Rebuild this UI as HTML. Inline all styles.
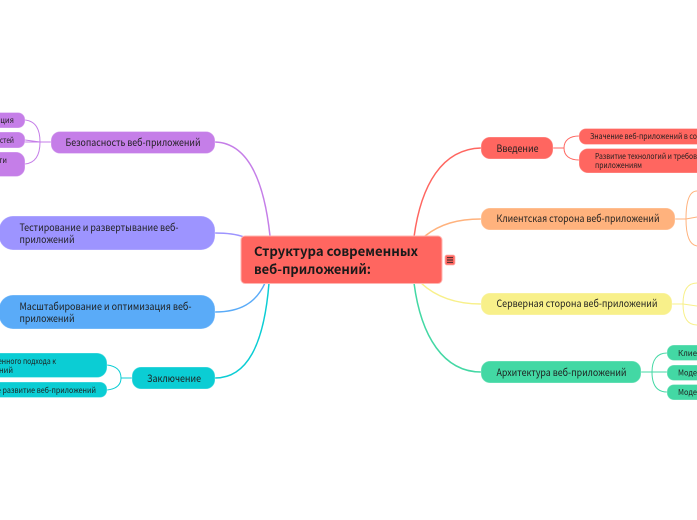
<!DOCTYPE html>
<html>
<head>
<meta charset="utf-8">
<style>
html,body{margin:0;padding:0;background:#fff;width:697px;height:520px;overflow:hidden}
svg{display:block}
text{font-family:"Noto Sans CJK SC","Liberation Sans",sans-serif;fill:#1e1e1e}
.m{font-size:10.200px}
.s{font-size:7.800px}
.r{font-size:13px;font-weight:700;fill:#1a1a1a}
.l{fill:none;stroke-width:1.5;stroke-linecap:round}
.t{fill:none;stroke-width:1}
.n{stroke:#fff;stroke-opacity:.3;stroke-width:1}
</style>
</head>
<body>
<svg width="697" height="520" viewBox="0 0 697 520" xmlns="http://www.w3.org/2000/svg">
<!-- main connectors -->
<path class="l" stroke="#ff6660" d="M414 237C421 185 442 149 481 148"/>
<path class="l" stroke="#ffb27d" d="M425 236C440 224 458 219 481 219"/>
<path class="l" stroke="#f8f08a" d="M421 283C436 297 456 304 481 304"/>
<path class="l" stroke="#43d8a4" d="M414 283C421 337 444 372 481 372"/>
<path class="l" stroke="#c57ee8" d="M270 236C264 180 248 143 215 142"/>
<path class="l" stroke="#9d94ff" d="M244 237C236 234 226 233 215 233"/>
<path class="l" stroke="#5aabf8" d="M265 283C256 303 240 312 215 312"/>
<path class="l" stroke="#0bcdd4" d="M269 283C264 345 247 378 215 378"/>
<!-- sub connectors -->
<path class="t" stroke="#ff6660" d="M553 148H564M579 136C570 136 564 140 564 148C564 156 570 160 579 160"/>
<path class="t" stroke="#ffb27d" d="M675 219H686M697 191C690 191 686 200 686 219C686 237 690 245 697 246M686 219L697 217"/>
<path class="t" stroke="#f8f08a" d="M672 304H683M697 283C688 283 683 290 683 304C683 318 688 325 697 325M683 304L697 306"/>
<path class="t" stroke="#43d8a4" d="M641 372H667M667 353C657 353 652 360 652 372C652 385 657 392 667 392"/>
<path class="t" stroke="#c57ee8" d="M51 142H25M25 120C35 121 40 128 40 142C40 156 35 163 25 164M25 140L40 142"/>
<path class="t" stroke="#0bcdd4" d="M132 378H121M107 365C116 366 121 370 121 378C121 385 116 389 107 390"/>
<!-- root -->
<rect x="241" y="236" width="201" height="47.500" rx="4" fill="#ff6660" stroke="#ffb5b1" stroke-width="1"/>
<text class="r" x="254" y="256" textLength="164" lengthAdjust="spacingAndGlyphs">Структура современных</text>
<text class="r" x="254" y="274" textLength="117" lengthAdjust="spacingAndGlyphs">веб-приложений:</text>
<rect x="445" y="255" width="10" height="10" rx="2" fill="#ff6660" stroke="#ffb5b1" stroke-width="0.8"/>
<path d="M447 257.700H453M447 260H453M447 262.300H453" stroke="#222" stroke-width="0.9"/>
<!-- right nodes -->
<rect class="n" x="481" y="137" width="72" height="22" rx="9" fill="#ff6660"/>
<text class="m" x="496.500" y="152" textLength="42" lengthAdjust="spacingAndGlyphs">Введение</text>
<rect class="n" x="481" y="208" width="194" height="22" rx="9" fill="#ffb27d"/>
<text class="m" x="496.500" y="222" textLength="163" lengthAdjust="spacingAndGlyphs">Клиентская сторона веб-приложений</text>
<rect class="n" x="481" y="293" width="191" height="22" rx="9" fill="#f8f08a"/>
<text class="m" x="496.500" y="307" textLength="161" lengthAdjust="spacingAndGlyphs">Серверная сторона веб-приложений</text>
<rect class="n" x="481" y="361" width="160" height="22" rx="9" fill="#43d8a4"/>
<text class="m" x="496.500" y="376" textLength="130" lengthAdjust="spacingAndGlyphs">Архитектура веб-приложений</text>
<!-- right children -->
<rect class="n" x="579" y="128.500" width="140" height="16" rx="7" fill="#ff6660"/>
<text class="s" x="590" y="139" textLength="107" lengthAdjust="spacingAndGlyphs">Значение веб-приложений в со</text>
<rect class="n" x="579" y="148.500" width="140" height="24.500" rx="9" fill="#ff6660"/>
<text class="s" x="595" y="159" textLength="102" lengthAdjust="spacingAndGlyphs">Развитие технологий и требов</text>
<text class="s" x="595" y="168" textLength="47" lengthAdjust="spacingAndGlyphs">приложениям</text>
<rect class="n" x="667" y="345" width="50" height="15.500" rx="7" fill="#43d8a4"/>
<text class="s" x="678" y="356" textLength="19" lengthAdjust="spacingAndGlyphs">Клие</text>
<rect class="n" x="667" y="365" width="50" height="15.500" rx="7" fill="#43d8a4"/>
<text class="s" x="678" y="375.500" textLength="19" lengthAdjust="spacingAndGlyphs">Моде</text>
<rect class="n" x="667" y="384.500" width="50" height="15.500" rx="7" fill="#43d8a4"/>
<text class="s" x="678" y="395" textLength="19" lengthAdjust="spacingAndGlyphs">Моде</text>
<!-- left nodes -->
<rect class="n" x="51" y="131.500" width="164" height="22" rx="9" fill="#c57ee8"/>
<text class="m" x="65.500" y="146" textLength="135" lengthAdjust="spacingAndGlyphs">Безопасность веб-приложений</text>
<rect class="n" x="-1" y="216" width="216" height="34" rx="14" fill="#9d94ff"/>
<text class="m" x="19.500" y="231" textLength="159" lengthAdjust="spacingAndGlyphs">Тестирование и развертывание веб-</text>
<text class="m" x="19.500" y="243" textLength="55" lengthAdjust="spacingAndGlyphs">приложений</text>
<rect class="n" x="-1" y="295" width="216" height="34" rx="14" fill="#5aabf8"/>
<text class="m" x="19.500" y="310" textLength="172" lengthAdjust="spacingAndGlyphs">Масштабирование и оптимизация веб-</text>
<text class="m" x="19.500" y="322" textLength="55" lengthAdjust="spacingAndGlyphs">приложений</text>
<rect class="n" x="132" y="367" width="83" height="22" rx="9" fill="#0bcdd4"/>
<text class="m" x="147" y="382" textLength="54" lengthAdjust="spacingAndGlyphs">Заключение</text>
<!-- left children -->
<rect class="n" x="-30" y="112.500" width="55" height="15.500" rx="7" fill="#c57ee8"/>
<text class="s" x="-4" y="123" textLength="18" lengthAdjust="spacingAndGlyphs">ация</text>
<rect class="n" x="-30" y="132" width="55" height="16" rx="7" fill="#c57ee8"/>
<text class="s" x="-4" y="143" textLength="18" lengthAdjust="spacingAndGlyphs">остей</text>
<rect class="n" x="-30" y="152" width="55" height="24.500" rx="9" fill="#c57ee8"/>
<text class="s" x="-5" y="163" textLength="12" lengthAdjust="spacingAndGlyphs">сти</text>
<rect class="n" x="-40" y="353" width="147" height="24.500" rx="10" fill="#0bcdd4"/>
<text class="s" x="-2" y="364" textLength="58" lengthAdjust="spacingAndGlyphs">енного подхода к</text>
<text class="s" x="-1" y="373" textLength="14" lengthAdjust="spacingAndGlyphs">ний</text>
<rect class="n" x="-40" y="382" width="147" height="15.500" rx="7" fill="#0bcdd4"/>
<text class="s" x="-3" y="393" textLength="99" lengthAdjust="spacingAndGlyphs">е развитие веб-приложений</text>
</svg>
</body>
</html>
